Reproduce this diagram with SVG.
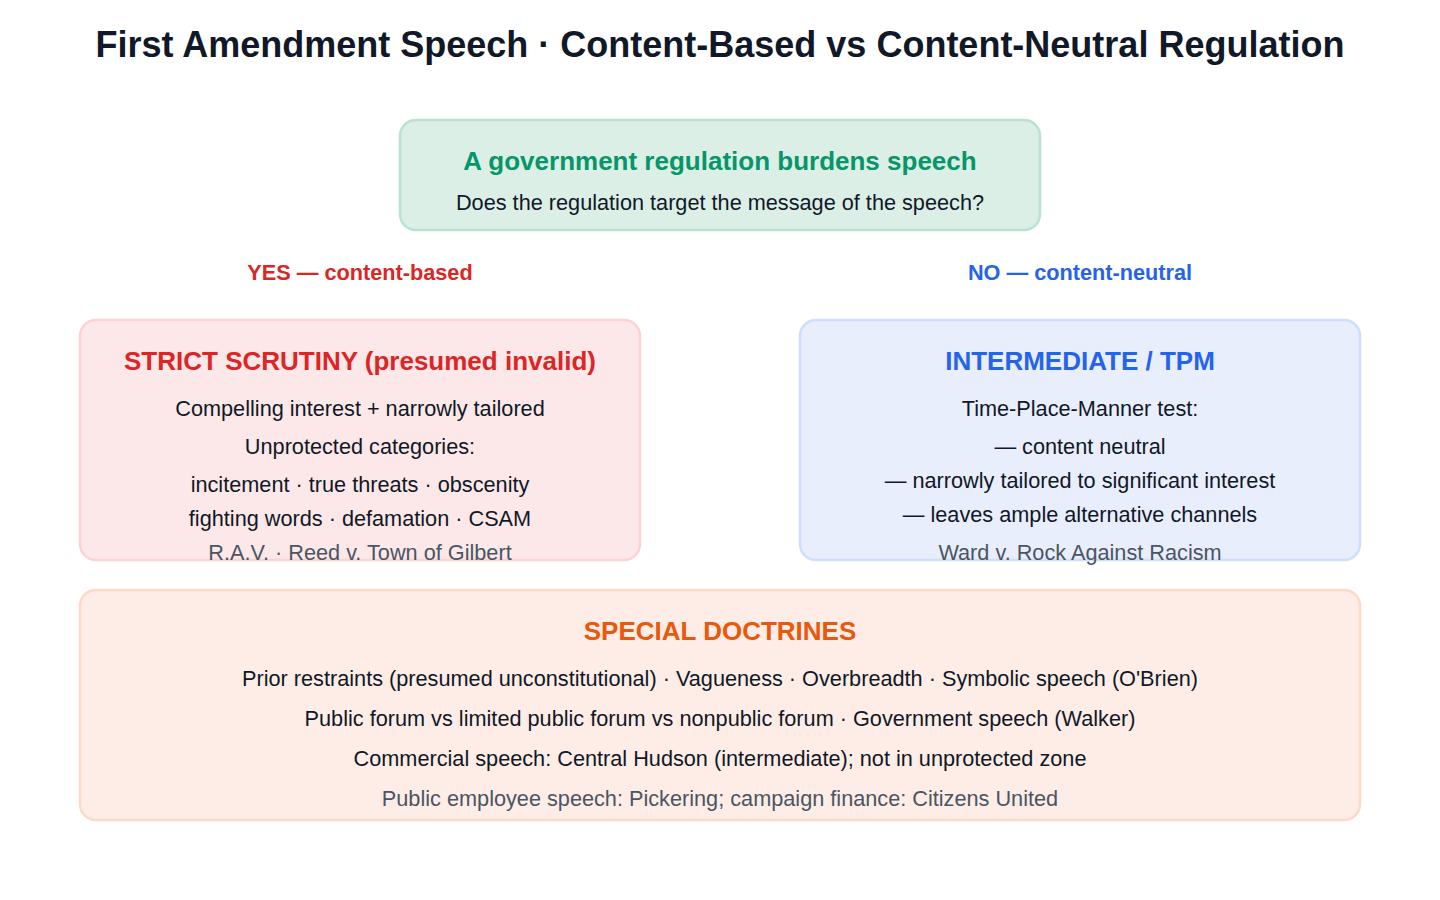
<svg xmlns="http://www.w3.org/2000/svg" width="1440" height="900" viewBox="0 0 1440 900">
<style>
text{font-family:"Liberation Sans",Arial,sans-serif;text-anchor:middle}
.title{font-size:36px;font-weight:bold;fill:#111827}
.h{font-size:26px;font-weight:bold}
.t{font-size:21.7px;fill:#111827}
.g{font-size:21.7px;fill:#4b5563}
.lbl{font-size:21.7px;font-weight:bold}
.box{stroke-width:2.5}
</style>
<rect width="1440" height="900" fill="#ffffff"/>
<text class="title" x="720" y="57">First Amendment Speech · Content-Based vs Content-Neutral Regulation</text>
<g id="connectors">
<text class="lbl" x="360" y="280" fill="#dc2626">YES — content-based</text>
<text class="lbl" x="1080" y="280" fill="#2563eb">NO — content-neutral</text>
</g>
<g id="start">
<rect class="box" x="400" y="120" width="640" height="110" rx="16" fill="#dbefe7" stroke="#b9e2d1"/>
<text class="h" x="720" y="170" fill="#059669">A government regulation burdens speech</text>
<text class="t" x="720" y="210">Does the regulation target the message of the speech?</text>
</g>
<g id="strict">
<rect class="box" x="80" y="320" width="560" height="240" rx="16" fill="#fce8e8" stroke="#fbd3d3"/>
<text class="h" x="360" y="370" fill="#dc2626">STRICT SCRUTINY (presumed invalid)</text>
<text class="t" x="360" y="416">Compelling interest + narrowly tailored</text>
<text class="t" x="360" y="454">Unprotected categories:</text>
<text class="t" x="360" y="492">incitement · true threats · obscenity</text>
<text class="t" x="360" y="526">fighting words · defamation · CSAM</text>
<text class="g" x="360" y="560">R.A.V. · Reed v. Town of Gilbert</text>
</g>
<g id="intermediate">
<rect class="box" x="800" y="320" width="560" height="240" rx="16" fill="#e8eefc" stroke="#d0ddfb"/>
<text class="h" x="1080" y="370" fill="#2563eb">INTERMEDIATE / TPM</text>
<text class="t" x="1080" y="416">Time-Place-Manner test:</text>
<text class="t" x="1080" y="454">— content neutral</text>
<text class="t" x="1080" y="488">— narrowly tailored to significant interest</text>
<text class="t" x="1080" y="522">— leaves ample alternative channels</text>
<text class="g" x="1080" y="560">Ward v. Rock Against Racism</text>
</g>
<g id="special">
<rect class="box" x="80" y="590" width="1280" height="230" rx="16" fill="#fdede6" stroke="#fdd9c8"/>
<text class="h" x="720" y="640" fill="#ea580c">SPECIAL DOCTRINES</text>
<text class="t" x="720" y="686">Prior restraints (presumed unconstitutional) · Vagueness · Overbreadth · Symbolic speech (O'Brien)</text>
<text class="t" x="720" y="726">Public forum vs limited public forum vs nonpublic forum · Government speech (Walker)</text>
<text class="t" x="720" y="766">Commercial speech: Central Hudson (intermediate); not in unprotected zone</text>
<text class="g" x="720" y="806">Public employee speech: Pickering; campaign finance: Citizens United</text>
</g>
</svg>
